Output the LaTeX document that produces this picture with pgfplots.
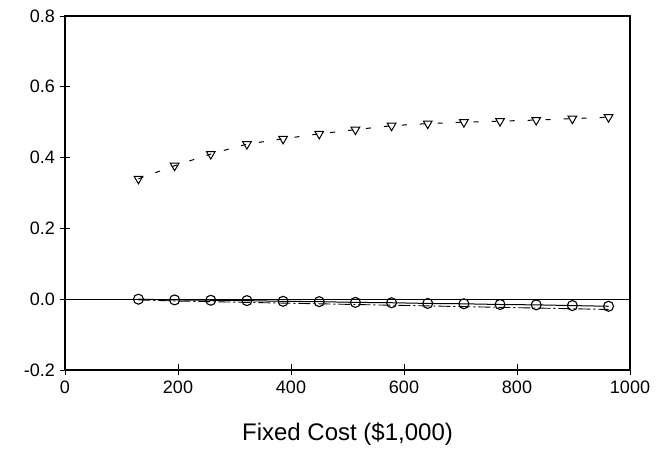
\documentclass[border=0pt]{standalone}
\usepackage{pgfplots}
\pgfplotsset{compat=1.18}
\usepackage{fontspec}
\setmainfont{Liberation Sans}
\begin{document}
\begin{tikzpicture}
\begin{axis}[
  at={(0pt,0pt)}, anchor=south west,
  width=565pt, height=354pt, scale only axis,
  xmin=0, xmax=1000, ymin=-0.2, ymax=0.8,
  xtick={0,200,...,1000}, ytick={-0.2,0,0.2,0.4,0.6,0.8},
  xtick pos=left, ytick pos=left,
  tick align=center, major tick length=11pt,
  /pgf/number format/assume math mode=true,
  /pgf/number format/set thousands separator={},
  yticklabel style={/pgf/number format/fixed,/pgf/number format/fixed zerofill,/pgf/number format/precision=1,font=\fontsize{18}{20}\selectfont, xshift=-1pt},
  xticklabel style={font=\fontsize{18}{20}\selectfont, yshift=-2pt},
  scaled y ticks=false,
  xlabel={Fixed Cost (\$1,000)},
  xlabel style={font=\fontsize{24}{28}\selectfont, yshift=-22pt},
  axis line style={black, line width=1.1pt},
  every tick/.style={black, line width=0.8pt},
  clip=false,
]
\addplot[black, line width=0.9pt, forget plot] coordinates {(0,0) (1000,0)};
\addplot[black, line width=1pt, dash pattern=on 5pt off 13pt, mark=triangle, mark size=5pt, mark options={solid, rotate=180, line width=1pt}] coordinates {
(130,0.340) (194,0.377) (258,0.410) (322,0.438) (386,0.453) (450,0.467) (514,0.479) (578,0.490) (642,0.496) (706,0.500) (770,0.503) (834,0.506) (898,0.510) (962,0.514)
};
\addplot[black, line width=0.9pt, dash pattern=on 12pt off 3pt on 2pt off 3pt] coordinates {
(130,-0.002) (194,-0.005) (258,-0.007) (322,-0.009) (386,-0.011) (450,-0.013) (514,-0.015) (578,-0.017) (642,-0.019) (706,-0.021) (770,-0.023) (834,-0.025) (898,-0.027) (962,-0.029)
};
\addplot[black, line width=1pt, mark=o, mark size=5pt, mark options={solid, fill=white, line width=1.1pt}] coordinates {
(130,0.000) (194,-0.002) (258,-0.003) (322,-0.004) (386,-0.006) (450,-0.007) (514,-0.009) (578,-0.010) (642,-0.012) (706,-0.013) (770,-0.015) (834,-0.016) (898,-0.018) (962,-0.020)
};
\end{axis}
\pgfresetboundingbox
\path (-65pt,-92pt) rectangle (604pt,370pt);
\end{tikzpicture}
\end{document}
